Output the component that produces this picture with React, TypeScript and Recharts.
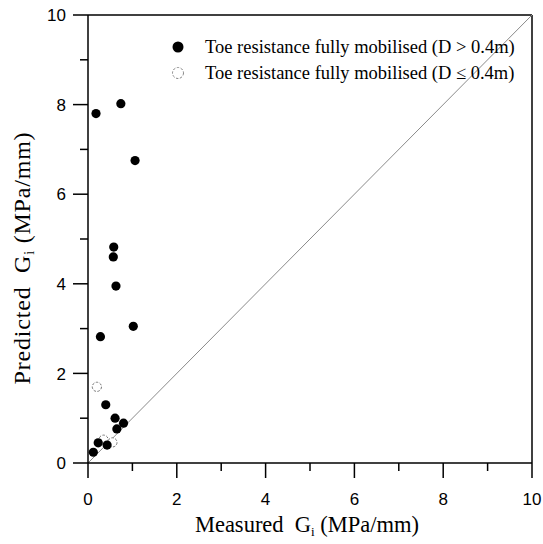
import React from 'react';
import { ScatterChart, Scatter, XAxis, YAxis, ReferenceLine } from 'recharts';

const bigMeasured = [0.18, 0.74, 1.06, 0.58, 0.57, 0.63, 1.02, 0.28, 0.4, 0.61, 0.8, 0.65, 0.12, 0.23, 0.43];
const bigPredicted = [7.8, 8.02, 6.75, 4.82, 4.6, 3.95, 3.05, 2.82, 1.3, 1.0, 0.89, 0.76, 0.24, 0.45, 0.4];
const smallMeasured = [0.2, 0.35, 0.55];
const smallPredicted = [1.7, 0.52, 0.46];

const axisTicks = [0, 1, 2, 3, 4, 5, 6, 7, 8, 9, 10];
const legendLabels = [
  'Toe resistance fully mobilised (D > 0.4m)',
  'Toe resistance fully mobilised (D \u2264 0.4m)',
];

const bigData = bigMeasured.map((x, i) => ({ x, y: bigPredicted[i] }));
const smallData = smallMeasured.map((x, i) => ({ x, y: smallPredicted[i] }));

const SERIF = '"Liberation Serif", "Times New Roman", serif';
const SANS = '"Liberation Sans", Arial, sans-serif';

const XTick = (props: any) => {
  const { x, y, payload } = props;
  const major = payload.value % 2 === 0;
  return (
    <g>
      <line x1={x} y1={y} x2={x} y2={y + (major ? 15 : 8)} stroke="#000" strokeWidth={1.5} />
      {major && (
        <text x={x} y={y + 42} textAnchor="middle" fontFamily={SANS} fontSize={17} fill="#000">
          {payload.value}
        </text>
      )}
    </g>
  );
};

const YTick = (props: any) => {
  const { x, y, payload } = props;
  const major = payload.value % 2 === 0;
  return (
    <g>
      <line x1={x} y1={y} x2={x - (major ? 15 : 8)} y2={y} stroke="#000" strokeWidth={1.5} />
      {major && (
        <text x={x - 22} y={y} dy="0.36em" textAnchor="end" fontFamily={SANS} fontSize={17} fill="#000">
          {payload.value}
        </text>
      )}
    </g>
  );
};

const XLabel = ({ viewBox }: any) => {
  const cx = viewBox.x + viewBox.width / 2 - 3;
  return (
    <text x={cx} y={viewBox.y + 69} textAnchor="middle" fontFamily={SERIF} fontSize={22.5} fill="#000">
      Measured{'\u00a0\u00a0'}G<tspan fontSize={13} dy={4}>i</tspan>
      <tspan dy={-4}> (MPa/mm)</tspan>
    </text>
  );
};

const YLabel = ({ viewBox }: any) => {
  const cy = viewBox.y + viewBox.height / 2 + 19;
  const cx = 30;
  return (
    <text
      x={cx}
      y={cy}
      textAnchor="middle"
      transform={`rotate(-90, ${cx}, ${cy})`}
      fontFamily={SERIF}
      fontSize={24}
      letterSpacing={0.8}
      fill="#000"
    >
      Predicted{'\u00a0\u00a0'}G<tspan fontSize={14} dy={4}>i</tspan>
      <tspan dy={-4}> (MPa/mm)</tspan>
    </text>
  );
};

const FilledDot = (p: any) => <circle cx={p.cx} cy={p.cy} r={4.6} fill="#000" />;
const OpenDot = (p: any) => (
  <circle cx={p.cx} cy={p.cy} r={4.6} fill="#fff" stroke="#777" strokeWidth={1} strokeDasharray="2.5 1.5" />
);

export default function App() {
  return (
    <div style={{ position: 'absolute', left: 0, top: 0, width: 543, height: 544, background: '#fff' }}>
      <ScatterChart width={543} height={544} margin={{ top: 15, right: 11, left: 0, bottom: 0 }}>
        <XAxis
          type="number"
          dataKey="x"
          domain={[0, 10]}
          ticks={axisTicks}
          interval={0}
          allowDataOverflow
          height={81}
          tickSize={0}
          tickMargin={0}
          tick={<XTick />}
          axisLine={{ stroke: '#000', strokeWidth: 1.5 }}
          label={<XLabel />}
        />
        <YAxis
          type="number"
          dataKey="y"
          domain={[0, 10]}
          ticks={axisTicks}
          interval={0}
          allowDataOverflow
          width={88}
          tickSize={0}
          tickMargin={0}
          tick={<YTick />}
          axisLine={{ stroke: '#000', strokeWidth: 1.5 }}
          label={<YLabel />}
        />
        <ReferenceLine y={10} stroke="#000" strokeWidth={1.5} />
        <ReferenceLine x={10} stroke="#000" strokeWidth={1.5} />
        <ReferenceLine
          segment={[{ x: 0, y: 0 }, { x: 10, y: 10 }]}
          stroke="#8a8a8a"
          strokeWidth={1}
        />
        <Scatter data={smallData} shape={<OpenDot />} isAnimationActive={false} />
        <Scatter data={bigData} shape={<FilledDot />} isAnimationActive={false} />
      </ScatterChart>
      <div style={{ position: 'absolute', left: 168, top: 34, fontFamily: SERIF, fontSize: 18.5, color: '#000' }}>
        {legendLabels.map((label, i) => (
          <div key={label} style={{ display: 'flex', alignItems: 'center', height: 26, whiteSpace: 'nowrap' }}>
            <svg width={20} height={20} style={{ marginRight: 17 }}>
              {i === 0 ? (
                <circle cx={10} cy={10} r={5.5} fill="#000" />
              ) : (
                <circle cx={10} cy={10} r={5.5} fill="#fff" stroke="#888" strokeWidth={1} strokeDasharray="2.5 1.5" />
              )}
            </svg>
            <span>{label}</span>
          </div>
        ))}
      </div>
    </div>
  );
}
